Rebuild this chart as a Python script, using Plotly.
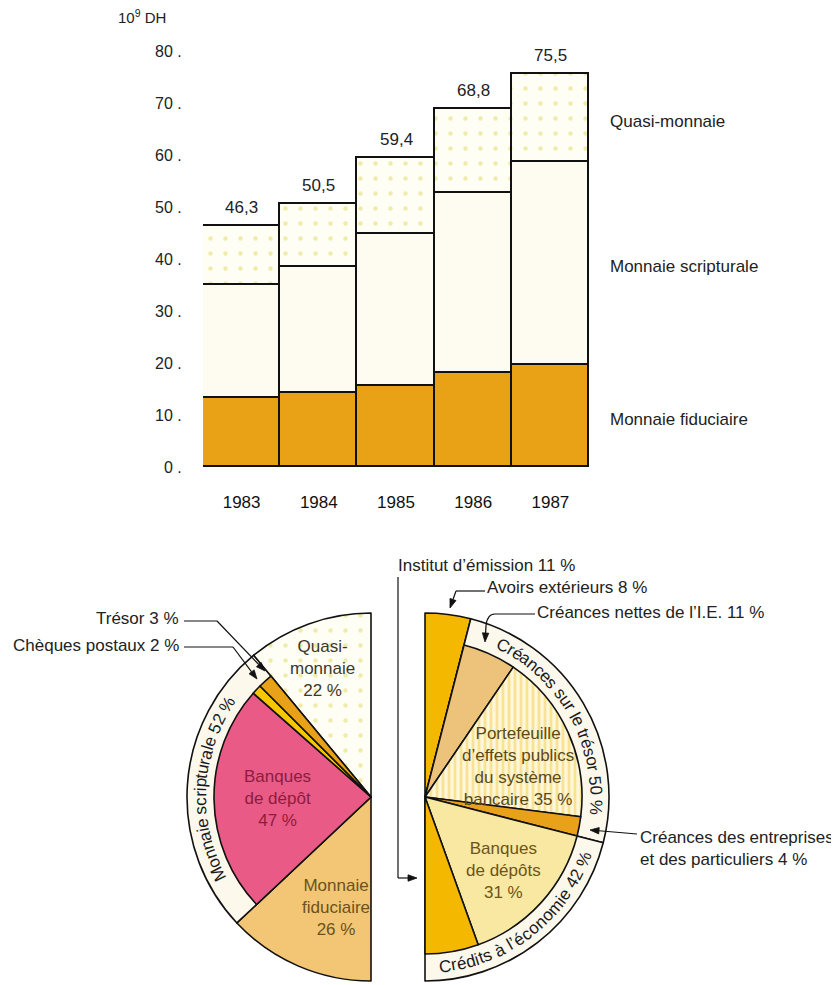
import math
import plotly.graph_objects as go

W, H = 839, 985
OFF = 8  # page body margin of the html page
FONT = "Liberation Sans, Arial, Helvetica, sans-serif"

# ---------------- data : bar chart ----------------
years = ["1983", "1984", "1985", "1986", "1987"]
fiduciaire = [13.3, 14.2, 15.6, 18.1, 19.6]
scripturale = [21.7, 24.3, 29.2, 34.6, 39.1]
quasi_monnaie = [11.3, 12.0, 14.6, 16.1, 16.8]
y_ticks = [0, 10, 20, 30, 40, 50, 60, 70, 80]
y_ticktext = [f"{v} ." for v in y_ticks]
series_names = ["Monnaie fiduciaire", "Monnaie scripturale", "Quasi-monnaie"]

# ---------------- data : half pies ----------------
left_outer_labels = ["Quasi-monnaie", "Monnaie scripturale", "Monnaie fiduciaire"]
left_outer_values = [22, 52, 26]
left_inner_labels = ["Trésor", "Chèques postaux", "Banques de dépôt"]
left_inner_values = [3, 2, 47]

right_outer_labels = ["Avoirs extérieurs", "Créances sur le trésor", "Crédits à l’économie"]
right_outer_values = [8, 50, 42]
right_inner_labels = ["Créances nettes de l’I.E.", "Portefeuille d’effets publics du système bancaire",
                      "Créances des entreprises et des particuliers", "Banques de dépôts",
                      "Institut d’émission"]
right_inner_values = [11, 35, 4, 31, 11]

# ---------------- colours ----------------
C_FID = "#E9A116"
C_SCR = "#FEFCF1"
C_QUASI = "#FFFEF4"
C_DOT = "#E0D862"
C_RING = "#FCF8EC"
C_SAND = "#F2C674"
C_PINK = "#EA5A86"
C_GOLD = "#F5B800"
C_ORANGE = "#E9A11A"
C_YELLOW = "#F7C600"
C_TAN = "#EDC27A"
C_STRIPE_BG = "#FFF7DA"
C_STRIPE = "#F2CE4E"
C_PALE = "#F8E8A2"
TRANSP = "rgba(0,0,0,0)"


def px(x):
    return (x - OFF) / W


def py(y):
    return 1 - (y - OFF) / H


def dom(cx, cy, r):
    return dict(x=[px(cx - r), px(cx + r)], y=[py(cy + r), py(cy - r)])


fig = go.Figure()

# ---------------- bars ----------------
line = dict(color="#111", width=1.7)
fig.add_bar(x=years, y=fiduciaire, name=series_names[0], marker=dict(color=C_FID, line=line))
fig.add_bar(x=years, y=scripturale, name=series_names[1], marker=dict(color=C_SCR, line=line))
fig.add_bar(x=years, y=quasi_monnaie, name=series_names[2],
            marker=dict(color=C_QUASI, line=line,
                        pattern=dict(shape=".", fgcolor=C_DOT, bgcolor=C_QUASI, size=15, solidity=0.07)))

# ---------------- half pies ----------------
R_OUT, R_IN = 184, 157
LCX, RCX, CY = 371, 425, 797

# left half: drawn clockwise from 6 o'clock (bottom -> left -> top)
lo_vals = left_outer_values[::-1] + [sum(left_outer_values)]
fig.add_pie(values=lo_vals, labels=left_outer_labels[::-1] + [""], sort=False, direction="clockwise",
            rotation=180, textinfo="none", hoverinfo="label", showlegend=False,
            domain=dom(LCX, CY, R_OUT),
            marker=dict(colors=[C_SAND, C_RING, C_QUASI, TRANSP],
                        line=dict(color="#111", width=[1.6, 1.6, 1.6, 0]),
                        pattern=dict(shape=["", "", ".", ""], fgcolor=[C_DOT] * 4,
                                     size=15, solidity=0.07, fillmode="overlay")))
li_vals = ([left_outer_values[2]] + left_inner_values[::-1] + [left_outer_values[0]]
           + [sum(left_outer_values)])
fig.add_pie(values=li_vals, labels=[" a"] + left_inner_labels[::-1] + [" b", " c"], sort=False,
            direction="clockwise", rotation=180, textinfo="none", hoverinfo="label",
            showlegend=False, domain=dom(LCX, CY, R_IN),
            marker=dict(colors=[TRANSP, C_PINK, C_YELLOW, C_ORANGE, TRANSP, TRANSP],
                        line=dict(color="#111", width=[0, 1.6, 1.6, 1.6, 0, 0])))
# right half: clockwise from 12 o'clock
ro_vals = right_outer_values + [sum(right_outer_values)]
fig.add_pie(values=ro_vals, labels=right_outer_labels + [""], sort=False, direction="clockwise",
            rotation=0, textinfo="none", hoverinfo="label", showlegend=False,
            domain=dom(RCX, CY, R_OUT),
            marker=dict(colors=[C_GOLD, C_RING, C_RING, TRANSP],
                        line=dict(color="#111", width=[1.6, 1.6, 1.6, 0])))
ri_vals = [right_outer_values[0]] + right_inner_values + [sum(right_outer_values)]
fig.add_pie(values=ri_vals, labels=[" a"] + right_inner_labels + [" b"], sort=False,
            direction="clockwise", rotation=0, textinfo="none", hoverinfo="label",
            showlegend=False, domain=dom(RCX, CY, R_IN),
            marker=dict(colors=[TRANSP, C_TAN, C_STRIPE_BG, C_ORANGE, C_PALE, C_GOLD, TRANSP],
                        line=dict(color="#111", width=[0, 1.6, 1.6, 1.6, 1.6, 1.6, 0]),
                        pattern=dict(shape=["", "", "|", "", "", "", ""],
                                     fgcolor=[C_STRIPE] * 7, size=6, solidity=0.45,
                                     fillmode="overlay")))

annotations = []

# ---------------- bar annotations ----------------
totals = [round(a + b + c, 1) for a, b, c in zip(fiduciaire, scripturale, quasi_monnaie)]
for i, t in enumerate(totals):
    annotations.append(dict(x=i, y=t, xref="x", yref="y", text=f"{t:.1f}".replace(".", ","),
                            showarrow=False, yanchor="bottom", yshift=7,
                            font=dict(size=17, color="#222")))
last = len(years) - 1
mids = [fiduciaire[last] / 2,
        fiduciaire[last] + scripturale[last] / 2,
        fiduciaire[last] + scripturale[last] + quasi_monnaie[last] / 2]
for name, m in zip(series_names, mids):
    annotations.append(dict(x=last + 0.5, y=m, xref="x", yref="y", text=name, showarrow=False,
                            xanchor="left", xshift=19, yshift=-3,
                            font=dict(size=17, color="#222")))
annotations.append(dict(x=px(116), y=py(17), xref="paper", yref="paper", text="10<sup>9</sup> DH",
                        showarrow=False, xanchor="left", yanchor="middle",
                        font=dict(size=15, color="#222")))


# ---------------- text in pies ----------------
def label(x, y, text, color="#222", size=17, xanchor="center", align="center"):
    annotations.append(dict(x=px(x), y=py(y), xref="paper", yref="paper", text=text,
                            showarrow=False, xanchor=xanchor, yanchor="middle", align=align,
                            font=dict(size=size, color=color)))


label(322, 668, "Quasi-<br>monnaie<br>22 %", "#3A382A", 17)
label(277, 798, "Banques<br>de dépôt<br>47 %", "#8C1D40", 17)
label(336, 907, "Monnaie<br>fiduciaire<br>26 %", "#6B5220", 17)
label(518, 766, "Portefeuille<br>d’effets publics<br>du système<br>bancaire 35 %", "#5A4A18", 17)
label(503, 870, "Banques<br>de dépôts<br>31 %", "#6E5418", 17)

label(181, 618, "Trésor 3 %", "#222", 17, xanchor="right")
label(181, 645, "Chèques postaux 2 %", "#222", 17, xanchor="right")
label(396, 565, "Institut d’émission 11 %", "#222", 17, xanchor="left")
label(485, 587, "Avoirs extérieurs 8 %", "#222", 17, xanchor="left")
label(535, 612, "Créances nettes de l’I.E. 11 %", "#222", 17, xanchor="left")
label(638, 848, "Créances des entreprises<br>et des particuliers 4 %", "#222", 17,
      xanchor="left", align="left")

# ---------------- curved ring text ----------------
AW = {" ": .278, "'": .191, "’": .222, "%": .889, "a": .556, "b": .556, "c": .5, "d": .556,
      "e": .556, "é": .556, "f": .278, "i": .222, "l": .222, "m": .833, "n": .556, "o": .556,
      "p": .556, "r": .333, "s": .5, "t": .278, "u": .556, "à": .556, "C": .722, "M": .833}


def ring_text(text, cx, cy, r, center_deg, size, mode):
    ws = [AW.get(c, .556) * size for c in text]
    span = sum(ws) / r
    cum = 0.0
    for c, w in zip(text, ws):
        s = cum + w / 2
        cum += w
        if mode == "cw":
            th = math.radians(center_deg) - span / 2 + s / r
            ang = math.degrees(th)
        else:
            th = math.radians(center_deg) + span / 2 - s / r
            ang = math.degrees(th) - 180
        if c == " ":
            continue
        ang = ((ang + 180) % 360) - 180
        x = cx + r * math.sin(th)
        y = cy - r * math.cos(th)
        annotations.append(dict(x=px(x), y=py(y), xref="paper", yref="paper", text=c,
                                showarrow=False, textangle=ang, xanchor="center",
                                yanchor="middle", font=dict(size=size, color="#1a1a1a")))


RM = (R_OUT + R_IN) / 2
ring_text(f"{left_outer_labels[1]} {left_outer_values[1]} %", LCX, CY, RM, 273, 17, "cw")
ring_text(f"{right_outer_labels[1]} {right_outer_values[1]} %", RCX, CY, RM, 60.5, 17, "cw")
ring_text(f"{right_outer_labels[2]} {right_outer_values[2]} %", RCX, CY, RM, 142, 17, "ccw")

# ---------------- leader lines & arrows ----------------
shapes = []


def path(points, curve=None):
    d = "M " + " L ".join(f"{px(x)},{py(y)}" for x, y in points)
    if curve:
        (qx, qy), (ex, ey) = curve
        d += f" Q {px(qx)},{py(qy)} {px(ex)},{py(ey)}"
    shapes.append(dict(type="path", path=d, xref="paper", yref="paper",
                       line=dict(color="#111", width=1.2)))


def arrow(tail, tip, length=9, half=3.2):
    dx, dy = tip[0] - tail[0], tip[1] - tail[1]
    n = math.hypot(dx, dy)
    ux, uy = dx / n, dy / n
    bx, by = tip[0] - length * ux, tip[1] - length * uy
    path([tail, (bx, by)])
    p1 = (bx - half * uy, by + half * ux)
    p2 = (bx + half * uy, by - half * ux)
    d = f"M {px(tip[0])},{py(tip[1])} L {px(p1[0])},{py(p1[1])} L {px(p2[0])},{py(p2[1])} Z"
    shapes.append(dict(type="path", path=d, xref="paper", yref="paper",
                       fillcolor="#111", line=dict(color="#111", width=0.8)))


path([(184, 621), (217, 621)])
arrow((217, 621), (265, 671))
path([(184, 647), (233, 647)])
arrow((233, 647), (257, 679))
path([(398, 577), (398, 878)])
arrow((398, 878), (417, 878))
path([(485, 591), (456, 591)])
arrow((456, 591), (450, 608))
path([(535, 614), (495, 614)], curve=((487, 614), (486, 626)))
arrow((486, 626), (485, 642))
arrow((637, 834), (590, 830))

fig.update_layout(
    width=W, height=H, margin=dict(l=0, r=0, t=0, b=0, autoexpand=False),
    paper_bgcolor="white", plot_bgcolor="white",
    barmode="stack", bargap=0, showlegend=False,
    font=dict(family=FONT, size=16, color="#222"),
    xaxis=dict(type="category", domain=[px(203), px(589)], range=[-0.5, len(years) - 0.5],
               showgrid=False, zeroline=False, showline=False, ticks="outside", ticklen=20,
               tickcolor="rgba(0,0,0,0)", tickfont=dict(size=17, color="#111")),
    yaxis=dict(domain=[py(467), py(51)], range=[0, 80], showgrid=False,
               zeroline=False, showline=False, tickvals=y_ticks, ticktext=y_ticktext,
               ticks="outside", ticklen=17, tickcolor="rgba(0,0,0,0)",
               tickfont=dict(size=16, color="#222")),
    annotations=annotations, shapes=shapes,
)

fig.write_html("out.html")
